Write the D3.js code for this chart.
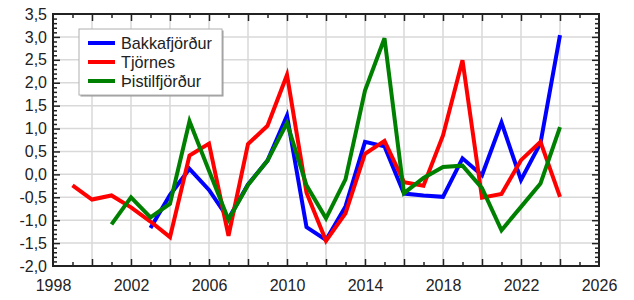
<!DOCTYPE html>
<html>
<head>
<meta charset="utf-8">
<script src="https://cdn.jsdelivr.net/npm/d3@7"></script>
<style>
  body { margin: 0; background: #fff; }
  text { font-family: "Liberation Sans", Arial, sans-serif; fill: #222; }
</style>
</head>
<body>
<div id="chart"></div>
<script>
// data
const seriesNames = ["Bakkafjörður", "Tjörnes", "Þistilfjörður"];
const seriesColors = ["#0000ff", "#ff0000", "#008000"];

const bakkaYears = d3.range(2003, 2025);
const bakkaValues = [-1.17, -0.45, 0.12, -0.34, -0.97, -0.22, 0.30, 1.28, -1.15, -1.43, -0.70,
    0.71, 0.61, -0.42, -0.46, -0.49, 0.35, -0.02, 1.13, -0.12, 0.68, 3.04];

const tjornesYears = d3.range(1999, 2025);
const tjornesValues = [-0.24, -0.55, -0.46, -0.72, -1.03, -1.37, 0.41, 0.67, -1.34, 0.66, 1.06,
    2.17, -0.40, -1.45, -0.85, 0.45, 0.73, -0.17, -0.25, 0.85, 2.49, -0.51, -0.43, 0.31, 0.71, -0.49];

const thistilYears = d3.range(2001, 2025);
const thistilValues = [-1.09, -0.50, -0.94, -0.64, 1.16, 0.08, -0.99, -0.23, 0.30, 1.12, -0.24,
    -0.96, -0.11, 1.83, 2.97, -0.41, -0.08, 0.16, 0.19, -0.30, -1.22, -0.71, -0.20, 1.03];

const xTickLabels = [1998, 2002, 2006, 2010, 2014, 2018, 2022, 2026];
const yTickLabels = [-2, -1.5, -1, -0.5, 0, 0.5, 1, 1.5, 2, 2.5, 3, 3.5];

const series = [
    {name: seriesNames[0], color: seriesColors[0], pts: bakkaYears.map((y, i) => [y, bakkaValues[i]])},
    {name: seriesNames[1], color: seriesColors[1], pts: tjornesYears.map((y, i) => [y, tjornesValues[i]])},
    {name: seriesNames[2], color: seriesColors[2], pts: thistilYears.map((y, i) => [y, thistilValues[i]])}
];

const W = 634, H = 300;
const margin = {top: 14, right: 35, bottom: 34, left: 53};

const svg = d3.select("#chart").append("svg")
    .attr("width", W)
    .attr("height", H);

const x = d3.scaleLinear().domain([1998, 2026]).range([margin.left, W - margin.right]);
const y = d3.scaleLinear().domain([-2, 3.5]).range([H - margin.bottom, margin.top]);

const fmt = v => v.toFixed(1).replace(".", ",");

// grid
svg.append("g")
    .selectAll("line.gx")
    .data(d3.range(2000, 2026, 2))
    .enter().append("line")
    .attr("x1", d => x(d)).attr("x2", d => x(d))
    .attr("y1", y(-2)).attr("y2", y(3.5))
    .attr("stroke", "#d9d9d9").attr("stroke-width", 1.5);

svg.append("g")
    .selectAll("line.gy")
    .data(d3.range(-1.5, 3.5, 0.5))
    .enter().append("line")
    .attr("x1", x(1998)).attr("x2", x(2026))
    .attr("y1", d => y(d)).attr("y2", d => y(d))
    .attr("stroke", "#d9d9d9").attr("stroke-width", 1.5);

// lines
const line = d3.line().x(d => x(d[0])).y(d => y(d[1]));

svg.selectAll("path.series")
    .data(series)
    .enter().append("path")
    .attr("class", "series")
    .attr("d", d => line(d.pts))
    .attr("fill", "none")
    .attr("stroke", d => d.color)
    .attr("stroke-width", 4)
    .attr("stroke-linejoin", "miter");

// ticks on all four sides, pointing inward
function tickAxis(axis, transform, values, size) {
    const g = svg.append("g")
        .attr("transform", transform)
        .call(axis.tickValues(values).tickSize(size).tickFormat(""));
    g.select(".domain").remove();
    g.selectAll("line").attr("stroke", "#222").attr("stroke-width", 1.5);
}
const yearsMinor = d3.range(1999, 2026, 2);
const yearsMajor = d3.range(2000, 2026, 2);
const yMinor = d3.range(-19, 35).map(v => v / 10).filter(v => Math.abs(v * 2 - Math.round(v * 2)) > 1e-6);
const yMajor = d3.range(-1.5, 3.5, 0.5);

tickAxis(d3.axisBottom(x), `translate(0,${y(-2)})`, yearsMajor, -7);
tickAxis(d3.axisBottom(x), `translate(0,${y(-2)})`, yearsMinor, -4);
tickAxis(d3.axisTop(x), `translate(0,${y(3.5)})`, yearsMajor, -7);
tickAxis(d3.axisTop(x), `translate(0,${y(3.5)})`, yearsMinor, -4);
tickAxis(d3.axisLeft(y), `translate(${x(1998)},0)`, yMajor, -7);
tickAxis(d3.axisLeft(y), `translate(${x(1998)},0)`, yMinor, -4);
tickAxis(d3.axisRight(y), `translate(${x(2026)},0)`, yMajor, -7);
tickAxis(d3.axisRight(y), `translate(${x(2026)},0)`, yMinor, -4);

// frame
svg.append("rect")
    .attr("x", x(1998)).attr("y", y(3.5))
    .attr("width", x(2026) - x(1998))
    .attr("height", y(-2) - y(3.5))
    .attr("fill", "none")
    .attr("stroke", "#222")
    .attr("stroke-width", 2);

// tick labels
const xLab = svg.append("g")
    .attr("transform", `translate(0,${y(-2)})`)
    .call(d3.axisBottom(x).tickValues(xTickLabels).tickSize(0).tickPadding(14).tickFormat(d3.format("d")));
xLab.select(".domain").remove();
xLab.selectAll("text").attr("font-size", 16).style("font-family", "'Liberation Sans', Arial, sans-serif").attr("fill", "#222");

const yLab = svg.append("g")
    .attr("transform", `translate(${x(1998)},0)`)
    .call(d3.axisLeft(y).tickValues(yTickLabels).tickSize(0).tickPadding(6).tickFormat(fmt));
yLab.select(".domain").remove();
yLab.selectAll("text").attr("font-size", 16).style("font-family", "'Liberation Sans', Arial, sans-serif").attr("fill", "#222");

// legend
const legend = svg.append("g").attr("transform", "translate(79,29)");
legend.append("rect")
    .attr("x", 1.5).attr("y", 1.5)
    .attr("width", 143).attr("height", 66)
    .attr("fill", "#999");
legend.append("rect")
    .attr("width", 143).attr("height", 66)
    .attr("fill", "#fff")
    .attr("stroke", "#b0b0b0")
    .attr("stroke-width", 1);

const items = legend.selectAll("g.item")
    .data(series)
    .enter().append("g")
    .attr("class", "item")
    .attr("transform", (d, i) => `translate(0,${14 + i * 19})`);
items.append("line")
    .attr("x1", 9).attr("x2", 36)
    .attr("stroke", d => d.color)
    .attr("stroke-width", 4);
items.append("text")
    .attr("x", 42).attr("dy", "0.35em")
    .attr("font-size", 16.2)
    .text(d => d.name);
</script>
</body>
</html>
